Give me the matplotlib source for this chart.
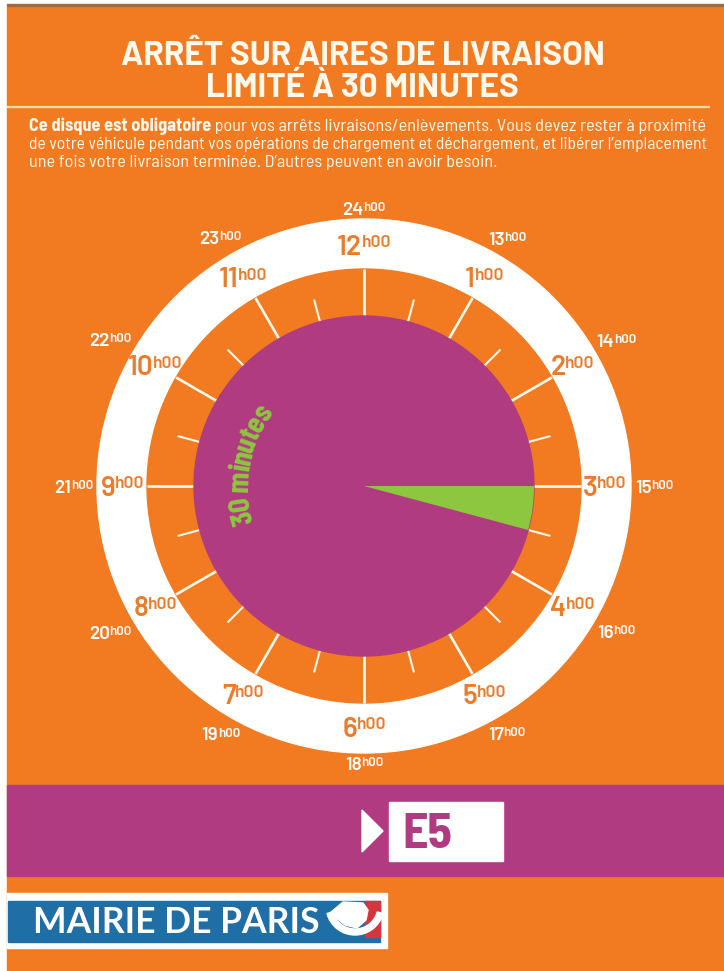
import numpy as np
import matplotlib
matplotlib.use("Agg")
import matplotlib.pyplot as plt
from matplotlib.patches import Circle, Wedge, Rectangle, Polygon
from matplotlib import font_manager
from matplotlib.font_manager import FontProperties

title_lines = ["ARRÊT SUR AIRES DE LIVRAISON", "LIMITÉ À 30 MINUTES"]
notice_bold = "Ce disque est obligatoire"
notice_lines = [" pour vos arrêts livraisons/enlèvements. Vous devez rester à proximité",
                "de votre véhicule pendant vos opérations de chargement et déchargement, et libérer l’emplacement",
                "une fois votre livraison terminée. D’autres peuvent en avoir besoin."]
dial_hours = [12, 1, 2, 3, 4, 5, 6, 7, 8, 9, 10, 11]
outer_hours = [24, 13, 14, 15, 16, 17, 18, 19, 20, 21, 22, 23]
hour_suffix = "h00"
stop_start = 3.0      # where the window opens on the dial (hours)
stop_minutes = 30     # length of the allowed stop
arc_label = "30 minutes"
zone_code = "E5"
city_label = "MAIRIE DE PARIS"

ORANGE = '#F27B21'
LABEL_OR = '#EC7B2A'
PURPLE = '#B13B80'
GREEN = '#8DC63F'
CREAM = '#FFF8EC'
LINE_C = '#F8DDA6'
BLUE = '#1F6EA5'
RED = '#D4353F'


def font(families, weight, condensed):
    # pick a font file by family and weight
    for fam in families:
        cands = [f for f in font_manager.fontManager.ttflist
                 if f.name == fam and f.style == 'normal']
        if cands:
            def key(f):
                w = f.weight if isinstance(f.weight, (int, float)) else font_manager.weight_dict.get(f.weight, 400)
                return ((str(f.stretch) == 'condensed') != condensed, abs(w - weight))
            return FontProperties(fname=min(cands, key=key).fname)
    return FontProperties(family='DejaVu Sans', weight=weight)

COND = ['Barlow Semi Condensed', 'Barlow Condensed', 'DejaVu Sans']
WIDE = ['Barlow', 'DejaVu Sans']
F_REG = font(COND, 400, True)
F_BOLD = font(COND, 700, True)
F_ARC = font(['Barlow Condensed', 'Barlow Semi Condensed', 'DejaVu Sans'], 700, True)
F_TITLE = font(WIDE, 700, False)
F_HOUR = font(WIDE, 600, False)
F_LOGO = font(['Lato', 'Fira Sans', 'DejaVu Sans'], 700, False)

W, H = 724, 971
fig = plt.figure(figsize=(W/100, H/100), dpi=100, facecolor='white')
ax = fig.add_axes([0, 0, 1, 1])
ax.set_xlim(0, W)
ax.set_ylim(H, 0)
ax.set_axis_off()
renderer = fig.canvas.get_renderer()

def wid(t):
    return t.get_window_extent(renderer).width

def fit(t, target):
    # scale font so the line fills the measured width
    t.set_fontsize(t.get_fontsize()*target/wid(t))

# background
ax.add_patch(Rectangle((7, 6), W-7, H-6, color=ORANGE, zorder=0))
ax.add_patch(Rectangle((7, 4), W-7, 2, color='#A06A45', zorder=0))

# title
for line, yb in zip(title_lines, [65, 97]):
    ax.text(W/2+0.5, yb, line, color=CREAM, fontproperties=F_TITLE, fontsize=24,
            ha='center', va='baseline')
ax.plot([7, 710], [107, 107], color=LINE_C, lw=1.6, solid_capstyle='butt')

# notice paragraph
tb = ax.text(29, 131, notice_bold, color=CREAM, fontproperties=F_BOLD, fontsize=10.5,
             ha='left', va='baseline')
t1 = ax.text(29, 131, notice_lines[0], color=CREAM, fontproperties=F_REG, fontsize=10.5,
             ha='left', va='baseline')
scale = 677/(wid(tb)+wid(t1))
tb.set_fontsize(tb.get_fontsize()*scale)
t1.set_fontsize(t1.get_fontsize()*scale)
t1.set_x(29+wid(tb))
for line, yb, tw in zip(notice_lines[1:], [149, 167], [680, None]):
    t = ax.text(29, yb, line, color=CREAM, fontproperties=F_REG, fontsize=t1.get_fontsize(),
                ha='left', va='baseline')
    if tw:
        fit(t, tw)

# the dial
CX, CY = 364, 486
R_DISC, R_BAND, R_RING = 170, 217, 267
ax.add_patch(Circle((CX, CY), R_RING, color='white', zorder=1))
ax.add_patch(Circle((CX, CY), R_BAND, color=ORANGE, zorder=2))

def clock_xy(a_deg, r):
    a = np.radians(a_deg)
    return CX + r*np.sin(a), CY - r*np.cos(a)

for i in range(24):
    a = i*15
    r_out = R_BAND if i % 2 == 0 else R_DISC+23
    x0, y0 = clock_xy(a, R_DISC-5)
    x1, y1 = clock_xy(a, r_out)
    ax.plot([x0, x1], [y0, y1], color=CREAM, lw=1.9 if i % 2 == 0 else 1.5,
            solid_capstyle='butt', zorder=3)

ax.add_patch(Circle((CX, CY), R_DISC, color=PURPLE, zorder=4))
a0 = stop_start*30
span = stop_minutes/60*30
ax.add_patch(Wedge((CX, CY), R_DISC, a0-90, a0-90+span, color=GREEN, lw=0, zorder=5))

def hour_label(num, a, s_num, s_sup, color, r, outer):
    ta = ax.text(0, 0, str(num), fontproperties=F_HOUR, fontsize=s_num,
                 color=color, ha='left', va='baseline', zorder=6)
    tb_ = ax.text(0, 0, hour_suffix, fontproperties=F_HOUR, fontsize=s_sup,
                  color=color, ha='left', va='baseline', zorder=6)
    w1, w2 = wid(ta), wid(tb_)
    gap = -0.5
    tot = w1+w2+gap
    cap1, cap2 = s_num*0.97, s_sup*0.97
    if outer:
        ar = np.radians(a)
        r = r + tot/2*abs(np.sin(ar)) + cap1/2*abs(np.cos(ar))
    xc, yc = clock_xy(a, r)
    base = yc + cap1/2
    ta.set_position((xc-tot/2, base))
    tb_.set_position((xc-tot/2+w1+gap, base-cap1+cap2))

for h in dial_hours:
    hour_label(h, (h % 12)*30, 20, 12.5, LABEL_OR, 241, False)
for h in outer_hours:
    hour_label(h, (h % 12)*30, 13.5, 9.5, 'white', 271, True)

# curved "30 minutes"
ARC_FS = 22.5
RB = 116
ws = []
for ch in arc_label:
    if ch == ' ':
        ws.append(ARC_FS*0.25)
    else:
        tt = ax.text(0, 0, ch, fontproperties=F_ARC, fontsize=ARC_FS)
        ws.append(wid(tt))
        tt.remove()
RS = RB + 10
total = sum(ws)
a_mid = 280.5
a_start = a_mid - np.degrees(total/RS)/2
s = 0
for ch, w in zip(arc_label, ws):
    a = a_start + np.degrees((s+w/2)/RS)
    s += w
    if ch == ' ':
        continue
    x, y = clock_xy(a, RB)
    ax.text(x, y, ch, fontproperties=F_ARC, fontsize=ARC_FS, color=GREEN,
            ha='center', va='baseline', rotation=(360-a) % 360,
            rotation_mode='anchor', zorder=6)

# zone band
ax.add_patch(Rectangle((7, 785), W-7, 91, color=PURPLE, zorder=1))
ax.add_patch(Polygon([(362, 810), (383, 831), (362, 852)], color='white', zorder=2))
ax.add_patch(Rectangle((389, 802), 114, 59, color='white', zorder=2))
ax.text(402, 848, zone_code, fontproperties=F_BOLD, fontsize=36,
        color=PURPLE, ha='left', va='baseline', zorder=3)

# city logo
ax.add_patch(Rectangle((7, 893), 380, 55, color='white', zorder=1))
ax.add_patch(Rectangle((8, 901), 372, 41, color=BLUE, zorder=2))
ax.add_patch(Polygon([(365, 901), (380, 901), (380, 937), (365, 937)], color=RED, zorder=3))
ax.add_patch(Polygon([(330, 913), (343, 902), (363, 903), (368, 910), (366, 920),
                      (357, 928), (345, 925)], color='white', zorder=4))
ax.add_patch(Wedge((355, 906), 29, 15, 165, width=6, color='white', zorder=4))
tl = ax.text(33, 933, city_label, fontproperties=F_LOGO, fontsize=21,
             color='white', ha='left', va='baseline', zorder=4)
fit(tl, 287)

fig.savefig('out.png', dpi=100, facecolor=fig.get_facecolor())
